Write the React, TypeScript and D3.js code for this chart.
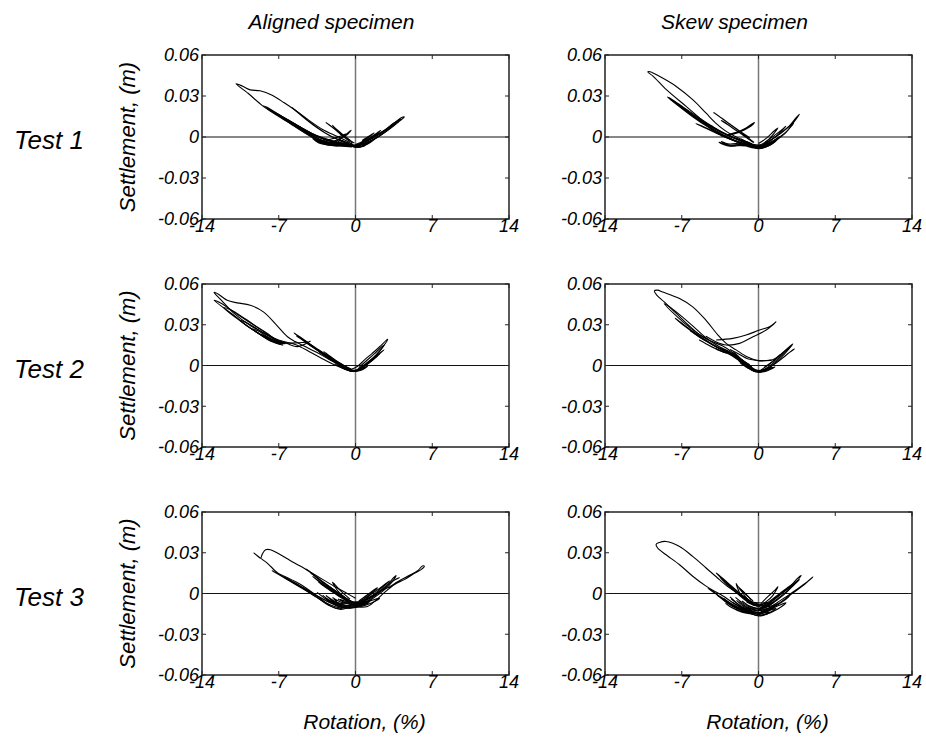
import React from "react";
import * as d3 from "d3";

type Pt = [number, number];

const colTitles = ["Aligned specimen", "Skew specimen"];
const rowTitles = ["Test 1", "Test 2", "Test 3"];
const xTicks = [-14, -7, 0, 7, 14];
const xTickLabels = ["-14", "-7", "0", "7", "14"];
const yTicks = [-0.06, -0.03, 0, 0.03, 0.06];
const yTickLabels = ["-0.06", "-0.03", "0", "0.03", "0.06"];
const xLabel = "Rotation, (%)";
const yLabel = "Settlement, (m)";

const t1Aligned: Pt[][] = [
  [[-0.2,-0.006],[-1.5,-0.005],[-2.9,-0.003],[-4.2,0.002],[-5.5,0.008],[-7.0,0.015],[-8.5,0.023],[-9.8,0.032],[-10.9,0.039],[-10.3,0.0372],[-9.6,0.0345],[-8.7,0.0338],[-7.6,0.0305],[-6.5,0.025],[-5.4,0.019],[-4.3,0.0125],[-3.0,0.0055],[-1.7,0.0005],[-0.5,-0.004]],
  [[-0.3,-0.0065],[-1.8,-0.005],[-3.2,-0.002],[-4.6,0.004],[-6.0,0.011],[-7.3,0.0175],[-8.4,0.0228],[-7.8,0.0205],[-6.6,0.0145],[-5.2,0.008],[-3.8,0.002],[-2.4,-0.002],[-1.0,-0.005]],
  [[-0.2,-0.006],[-1.6,-0.0055],[-3.0,-0.0035],[-4.4,0.002],[-5.8,0.009],[-7.0,0.0155],[-8.0,0.0205],[-7.4,0.0182],[-6.2,0.0128],[-4.9,0.0066],[-3.6,0.001],[-2.2,-0.003],[-0.8,-0.0055]],
  [[-0.4,-0.006],[-1.9,-0.0052],[-3.3,-0.003],[-4.7,0.0035],[-6.0,0.0105],[-7.4,0.0178],[-6.9,0.016],[-5.7,0.0102],[-4.4,0.0042],[-3.1,-0.0008],[-1.7,-0.0042],[-0.5,-0.006]],
  [[-0.3,-0.0058],[-1.7,-0.0048],[-3.1,-0.0025],[-4.5,0.0038],[-5.8,0.0102],[-6.8,0.0148],[-6.2,0.0125],[-5.0,0.0068],[-3.8,0.0012],[-2.5,-0.0028],[-1.2,-0.005]],
  [[-0.3,-0.005],[-1.5,-0.0022],[-2.6,0.0022],[-3.7,0.0082],[-4.8,0.015],[-5.8,0.0217],[-5.5,0.0195],[-4.5,0.0128],[-3.4,0.0062],[-2.3,0.0008],[-1.2,-0.0028],[-0.2,-0.0055]],
  [[-0.5,-0.006],[-1.5,-0.0058],[-2.5,-0.0052],[-3.4,-0.0035],[-3.9,-0.0012],[-3.5,-0.0022],[-2.8,-0.0045],[-2.0,-0.0056],[-1.0,-0.0062]],
  [[-0.6,-0.0055],[-1.6,-0.005],[-2.6,-0.0042],[-3.3,-0.0018],[-3.0,-0.0035],[-2.2,-0.0052],[-1.2,-0.006]],
  [[-0.4,-0.0068],[-1.4,-0.0062],[-2.4,-0.0055],[-3.2,-0.0042],[-3.7,-0.0025],[-3.2,-0.0048],[-2.3,-0.006],[-1.3,-0.0068],[-0.3,-0.0072]],
  [[-3.4,-0.0028],[-2.8,-0.0052],[-2.2,-0.0062],[-1.5,-0.0066],[-2.3,-0.0058],[-3.0,-0.0045]],
  [[-3.0,-0.0025],[-2.2,-0.0015],[-1.4,0.0005],[-0.9,0.0022],[-1.3,-0.0005],[-2.0,-0.0032],[-2.8,-0.0045]],
  [[-0.2,-0.0042],[-1.0,0.0005],[-1.8,0.0052],[-2.7,0.0107],[-2.4,0.0088],[-1.6,0.0038],[-0.8,-0.0008],[-0.1,-0.0045]],
  [[-0.3,-0.0045],[-1.0,-0.0005],[-1.6,0.0038],[-2.1,0.0085],[-1.9,0.0068],[-1.2,0.002],[-0.5,-0.0025]],
  [[-1.8,-0.0035],[-1.2,-0.0002],[-0.4,0.0049],[-0.7,0.0022],[-1.4,-0.0022],[-0.6,-0.0048]],
  [[0,-0.0068],[0.8,-0.0052],[1.6,-0.0022],[2.4,0.0018],[3.2,0.0063],[3.9,0.0108],[4.46,0.0146],[4.2,0.0142],[3.5,0.0098],[2.7,0.0048],[1.9,0.0006],[1.0,-0.0032],[0.2,-0.0058]],
  [[0.1,-0.0065],[0.9,-0.0048],[1.7,-0.0015],[2.5,0.0025],[3.3,0.0075],[4.15,0.0132],[3.8,0.0118],[3.0,0.0068],[2.2,0.0025],[1.3,-0.0015],[0.4,-0.005]],
  [[0,-0.0062],[0.9,-0.0045],[1.8,-0.001],[2.7,0.0038],[3.8,0.0112],[3.5,0.0102],[2.6,0.0048],[1.7,0.0008],[0.8,-0.0035]],
  [[-0.1,-0.006],[0.7,-0.004],[1.5,-0.0005],[2.3,0.0048],[2.0,0.0032],[1.2,-0.0012],[0.4,-0.0048]],
  [[0,-0.0055],[0.8,-0.0025],[1.7,0.003],[1.4,0.0015],[0.6,-0.0025]],
  [[-1.6,-0.0032],[-0.8,-0.0058],[0,-0.0072],[0.8,-0.0062],[1.5,-0.0025],[0.8,-0.0048],[0,-0.0066],[-0.8,-0.0048],[-1.5,-0.0022]],
  [[-1.2,-0.0025],[-0.5,-0.0062],[0.2,-0.0075],[0.9,-0.0055],[1.2,-0.0035],[0.4,-0.0058],[-0.4,-0.0055],[-1.0,-0.0035]],
  [[-1.0,-0.004],[-0.3,-0.0068],[0.5,-0.0072],[1.2,-0.0048],[1.8,-0.0012],[1.0,-0.0042],[0.2,-0.0062],[-0.6,-0.0058]],
  [[-0.6,-0.0064],[0.2,-0.0074],[0.8,-0.0068],[0.2,-0.0072],[-0.5,-0.0068]],
];

const t1Skew: Pt[][] = [
  [[-0.5,-0.006],[-1.6,-0.003],[-2.6,0.0005],[-3.56,0.004],[-4.8,0.0102],[-6.6,0.0224],[-8.4,0.0346],[-9.6,0.0444],[-10.1,0.0476],[-9.9,0.0478],[-9.04,0.0444],[-7.5,0.037],[-6.0,0.0273],[-4.8,0.0176],[-3.9,0.0102],[-2.95,0.0041],[-1.8,-0.001],[-0.6,-0.005]],
  [[-0.4,-0.0065],[-1.8,-0.004],[-3.2,0.0005],[-4.6,0.0072],[-6.0,0.0148],[-7.3,0.0228],[-8.3,0.0293],[-7.9,0.0275],[-6.8,0.0215],[-5.5,0.0145],[-4.2,0.0078],[-2.9,0.0018],[-1.5,-0.0032]],
  [[-0.3,-0.006],[-1.7,-0.0038],[-3.0,0.0008],[-4.4,0.0068],[-5.8,0.0142],[-7.1,0.022],[-8.0,0.0275],[-7.3,0.0238],[-6.0,0.0165],[-4.7,0.0098],[-3.4,0.0038],[-2.0,-0.0012],[-0.7,-0.005]],
  [[-0.5,-0.0058],[-1.9,-0.0035],[-3.3,0.0015],[-4.7,0.0085],[-6.0,0.0155],[-7.4,0.0238],[-6.8,0.0205],[-5.4,0.0128],[-4.0,0.0062],[-2.6,0.0005],[-1.2,-0.0038]],
  [[-1.5,-0.0042],[-2.6,-0.0015],[-3.7,0.0022],[-4.7,0.006],[-5.7,0.0098],[-5.2,0.0082],[-4.2,0.0045],[-3.1,0.0005],[-2.0,-0.0032]],
  [[-0.4,-0.004],[-1.3,0.0015],[-2.3,0.0075],[-3.2,0.0128],[-4.1,0.018],[-3.7,0.0158],[-2.8,0.0105],[-1.8,0.0048],[-0.8,-0.0005]],
  [[-0.5,-0.0038],[-1.4,0.0012],[-2.4,0.0068],[-3.4,0.012],[-3.1,0.0108],[-2.1,0.0052],[-1.1,0.0002]],
  [[-3.4,0.0005],[-2.6,0.0022],[-1.8,0.004],[-1.1,0.0068],[-0.37,0.0107],[-0.6,0.0085],[-1.3,0.0052],[-2.1,0.0025],[-2.8,0.001]],
  [[-0.8,-0.0062],[-1.8,-0.0055],[-2.6,-0.0058],[-3.2,-0.005],[-3.6,-0.0038],[-3.2,-0.0055],[-2.6,-0.0068],[-2.0,-0.0062],[-1.2,-0.0065]],
  [[-1.0,-0.0058],[-2.0,-0.0048],[-2.8,-0.005],[-3.4,-0.0032],[-2.9,-0.0058],[-2.2,-0.0066],[-1.5,-0.006]],
  [[0,-0.0075],[0.8,-0.0055],[1.6,-0.0022],[2.4,0.0025],[3.1,0.0095],[3.74,0.0166],[3.5,0.0148],[2.8,0.008],[2.0,0.0028],[1.2,-0.0018],[0.4,-0.0058]],
  [[0.1,-0.007],[0.9,-0.0048],[1.7,-0.0012],[2.5,0.0035],[3.2,0.0102],[2.9,0.0085],[2.1,0.003],[1.3,-0.0012],[0.5,-0.005]],
  [[0,-0.0068],[0.8,-0.0042],[1.6,0.0005],[2.5,0.0078],[2.2,0.0058],[1.4,0.0008],[0.6,-0.0038]],
  [[-0.1,-0.0065],[0.7,-0.0035],[1.77,0.0066],[1.4,0.0042],[0.7,-0.001],[0,-0.0048]],
  [[-1.6,-0.002],[-0.8,-0.0062],[0,-0.0085],[0.8,-0.0068],[1.5,-0.003],[0.8,-0.0052],[0,-0.0072],[-0.8,-0.005],[-1.6,-0.0015]],
  [[-1.3,-0.0032],[-0.6,-0.0068],[0.1,-0.008],[0.9,-0.0058],[1.3,-0.0038],[0.5,-0.0062],[-0.4,-0.006],[-1.1,-0.0035]],
  [[-2.0,-0.001],[-1.2,-0.0045],[-0.4,-0.0072],[0.4,-0.0075],[1.1,-0.0048],[0.3,-0.0058],[-0.6,-0.0052],[-1.5,-0.002]],
  [[-2.4,-0.002],[-1.5,-0.0055],[-0.6,-0.0078],[0.3,-0.0082],[1.0,-0.0062],[1.6,-0.0028],[0.8,-0.006],[-0.2,-0.0075],[-1.2,-0.006],[-2.2,-0.0028]],
  [[-1.1,-0.005],[-0.3,-0.0078],[0.6,-0.0072],[1.4,-0.004],[2.0,0.0005],[1.2,-0.0032],[0.4,-0.006],[-0.5,-0.0068]],
];

const t2Aligned: Pt[][] = [
  [[-0.3,-0.004],[-1.5,-0.001],[-2.8,0.004],[-4.2,0.0102],[-5.5,0.0155],[-6.8,0.0182],[-8.0,0.0225],[-9.6,0.0295],[-11.1,0.0385],[-12.2,0.0478],[-12.9,0.0539],[-12.5,0.0525],[-11.7,0.048],[-10.8,0.0461],[-9.6,0.0444],[-8.4,0.0395],[-7.2,0.0298],[-6.2,0.0212],[-5.5,0.0176],[-4.6,0.014],[-3.5,0.0095],[-2.4,0.0045],[-1.3,0.0005],[-0.4,-0.0025]],
  [[-7.0,0.0162],[-8.1,0.0205],[-9.6,0.0275],[-11.1,0.037],[-12.9,0.048],[-12.3,0.046],[-11.1,0.0395],[-9.6,0.0315],[-8.1,0.024],[-7.2,0.0188],[-6.5,0.0172],[-5.3,0.0139],[-4.1,0.018]],
  [[-6.9,0.0158],[-8.0,0.0198],[-9.4,0.0265],[-10.8,0.0345],[-12.0,0.0425],[-11.4,0.041],[-10.0,0.034],[-8.6,0.0262],[-7.4,0.0198],[-6.6,0.0165]],
  [[-6.8,0.0155],[-8.0,0.0195],[-9.2,0.0255],[-10.5,0.033],[-9.8,0.031],[-8.5,0.0245],[-7.4,0.0192],[-6.6,0.016]],
  [[-6.6,0.015],[-7.6,0.0175],[-8.6,0.0222],[-9.4,0.0268],[-8.9,0.0255],[-7.9,0.0205],[-7.0,0.0172]],
  [[-6.4,0.016],[-7.2,0.0168],[-8.0,0.0195],[-8.6,0.023],[-7.8,0.0198],[-7.0,0.0172],[-6.2,0.0165],[-5.2,0.0168],[-4.3,0.0172]],
  [[-0.4,-0.0038],[-1.4,0.0008],[-2.5,0.0062],[-3.6,0.0125],[-4.6,0.0185],[-5.6,0.0241],[-5.3,0.022],[-4.3,0.0162],[-3.2,0.0102],[-2.1,0.0045],[-1.0,-0.0005]],
  [[-0.5,-0.0035],[-1.5,0.001],[-2.6,0.0065],[-3.7,0.0128],[-4.8,0.019],[-5.4,0.0218],[-4.9,0.0192],[-3.8,0.0132],[-2.7,0.0072],[-1.6,0.0018],[-0.6,-0.0028]],
  [[-0.2,-0.0042],[-1.2,0.0002],[-2.2,0.0052],[-3.3,0.0108],[-4.4,0.0165],[-5.0,0.0198],[-4.5,0.0175],[-3.4,0.0118],[-2.3,0.006],[-1.2,0.0008],[-0.3,-0.0035]],
  [[-0.3,-0.004],[-1.3,0.0005],[-2.4,0.0055],[-3.5,0.0112],[-4.6,0.0172],[-4.2,0.0152],[-3.1,0.0092],[-2.0,0.0035],[-0.9,-0.0015]],
  [[-0.4,-0.0044],[-1.4,-0.0005],[-2.4,0.0048],[-3.3,0.0098],[-3.0,0.0085],[-2.0,0.0035],[-1.0,-0.0012]],
  [[-0.6,-0.0032],[-1.6,0.0018],[-2.9,0.0102],[-2.6,0.0085],[-1.7,0.0032],[-0.8,-0.0012]],
  [[-0.4,-0.0042],[-1.2,-0.0005],[-2.1,0.0045],[-2.0,0.0035],[-1.2,0.0002],[-0.5,-0.0035]],
  [[-0.2,-0.0045],[0.5,-0.0025],[1.2,0.0025],[1.9,0.008],[2.5,0.0138],[2.94,0.0193],[2.8,0.0185],[2.2,0.0138],[1.5,0.0088],[0.8,0.004],[0.2,-0.0005],[-0.5,-0.0032]],
  [[-0.1,-0.0042],[0.6,-0.002],[1.3,0.0028],[2.0,0.0085],[2.63,0.0151],[2.4,0.0138],[1.7,0.0085],[1.0,0.0035],[0.3,-0.0015]],
  [[0,-0.004],[0.7,-0.0012],[1.4,0.003],[2.0,0.0072],[2.6,0.0115],[2.3,0.0098],[1.6,0.0055],[0.9,0.0012],[0.2,-0.0028]],
  [[0,-0.0038],[0.8,-0.0005],[1.5,0.0035],[2.2,0.0085],[1.9,0.0068],[1.2,0.0025],[0.4,-0.002]],
  [[-1.8,0.0005],[-1.0,-0.0025],[-0.3,-0.0044],[0.5,-0.0035],[1.1,-0.0005],[0.4,-0.0025],[-0.4,-0.0038],[-1.2,-0.0015],[-1.9,0.0012]],
  [[-1.5,-0.0005],[-0.7,-0.0035],[0,-0.0042],[0.7,-0.0025],[0.2,-0.0035],[-0.6,-0.003],[-1.3,-0.0008]],
];

const t2Skew: Pt[][] = [
  [[0,-0.0045],[-0.8,-0.0005],[-1.6,0.0045],[-2.4,0.0098],[-3.3,0.0145],[-4.4,0.0182],[-5.4,0.0228],[-6.4,0.0298],[-7.5,0.0383],[-8.6,0.0468],[-9.3,0.052],[-9.5,0.0549],[-9.2,0.0555],[-8.73,0.0541],[-7.2,0.0493],[-6.0,0.0432],[-4.8,0.0334],[-3.7,0.0224],[-2.95,0.0163],[-2.04,0.0115],[-1.0,0.0062],[0,0.0035],[1.2,0.004]],
  [[-3.86,0.0188],[-2.34,0.02],[-1.13,0.0224],[0.09,0.0261],[1.0,0.0285],[1.6,0.0322],[1.2,0.0292],[0.7,0.0261],[-0.5,0.0212],[-1.73,0.0163],[-2.95,0.0151],[-3.9,0.0175],[-4.8,0.0215]],
  [[-0.3,-0.0045],[-1.2,0.0005],[-2.2,0.0068],[-3.2,0.0118],[-4.2,0.017],[-5.2,0.0218],[-6.2,0.0275],[-7.3,0.035],[-8.6,0.0455],[-8.3,0.0442],[-7.2,0.0375],[-6.0,0.0292],[-4.8,0.0205],[-3.8,0.0148],[-2.8,0.0108],[-1.8,0.0055],[-0.8,0.0005]],
  [[-0.4,-0.0042],[-1.3,0.001],[-2.3,0.0072],[-3.3,0.0112],[-4.3,0.0158],[-5.4,0.021],[-6.5,0.0275],[-7.6,0.0348],[-7.1,0.0318],[-6.0,0.0252],[-4.9,0.0192],[-3.8,0.0138],[-2.7,0.0098],[-1.6,0.0045],[-0.6,-0.001]],
  [[-0.2,-0.0048],[-1.1,0.0002],[-2.1,0.0062],[-3.1,0.0105],[-4.1,0.0148],[-5.1,0.0195],[-6.2,0.0255],[-5.7,0.0228],[-4.6,0.0172],[-3.6,0.0125],[-2.5,0.009],[-1.4,0.0035]],
  [[-0.5,-0.0038],[-1.5,0.0018],[-2.5,0.0078],[-3.5,0.0108],[-4.6,0.0152],[-5.4,0.0188],[-4.8,0.016],[-3.8,0.012],[-2.8,0.0088],[-1.8,0.0038],[-0.8,-0.002]],
  [[-0.3,-0.004],[-1.3,0.0015],[-2.3,0.0082],[-3.2,0.0098],[-3.9,0.0125],[-3.4,0.0108],[-2.6,0.0092],[-1.7,0.0042],[-0.7,-0.0015]],
  [[-0.6,-0.0035],[-1.5,0.0022],[-2.3,0.0102],[-2.0,0.008],[-1.3,0.0028],[-0.4,-0.0032]],
  [[-2.6,0.0118],[-1.8,0.0085],[-1.0,0.005],[-0.2,0.0038],[0.6,0.0035],[1.3,0.0042],[2.0,0.0082]],
  [[0,-0.0051],[0.7,-0.003],[1.4,0.0012],[2.1,0.0062],[2.7,0.0115],[3.13,0.0159],[2.9,0.0145],[2.3,0.0098],[1.6,0.0048],[0.9,0.0005],[0.2,-0.0035]],
  [[0.1,-0.0048],[0.8,-0.0025],[1.5,0.0012],[2.2,0.0055],[2.8,0.0095],[3.29,0.0122],[3.0,0.0108],[2.4,0.0068],[1.7,0.0025],[1.0,-0.0012],[0.3,-0.0038]],
  [[0,-0.0045],[0.7,-0.002],[1.4,0.0022],[2.1,0.0072],[2.9,0.0138],[2.6,0.0122],[1.9,0.0072],[1.2,0.0025],[0.5,-0.0015]],
  [[-1.6,0.0015],[-0.9,-0.0022],[-0.2,-0.0048],[0.6,-0.004],[1.2,-0.0012],[0.5,-0.0032],[-0.3,-0.0042],[-1.0,-0.0018],[-1.7,0.0022]],
  [[-1.3,0.0005],[-0.6,-0.003],[0.1,-0.0045],[0.9,-0.0028],[0.3,-0.0038],[-0.5,-0.0028],[-1.2,0.0008]],
  [[-1.8,0.0035],[-1.0,-0.001],[-0.2,-0.0045],[0.7,-0.0042],[1.5,-0.001],[0.8,-0.0028],[-0.1,-0.0038],[-0.9,-0.0005]],
];

const t3Aligned: Pt[][] = [
  [[-0.5,-0.0095],[-1.34,-0.0117],[-2.26,-0.0093],[-3.48,-0.002],[-5.0,0.0066],[-6.5,0.0127],[-7.1,0.0151],[-8.05,0.0224],[-8.7,0.0262],[-9.27,0.0298],[-8.9,0.0275],[-8.66,0.0261],[-8.5,0.029],[-8.2,0.0322],[-7.75,0.0322],[-7.0,0.0292],[-6.0,0.0245],[-5.0,0.02],[-3.48,0.0127],[-1.95,0.0054],[-0.8,0.0002],[0,-0.0035]],
  [[-0.6,-0.009],[-1.5,-0.0112],[-2.5,-0.0085],[-3.6,-0.0025],[-4.8,0.0035],[-6.0,0.0092],[-7.0,0.014],[-7.6,0.0168],[-7.1,0.0145],[-6.0,0.0098],[-4.8,0.0045],[-3.6,-0.0012],[-2.4,-0.0065],[-1.3,-0.0098]],
  [[-0.4,-0.0085],[-1.4,-0.0105],[-2.4,-0.008],[-3.5,-0.003],[-4.6,0.0028],[-5.6,0.0078],[-6.5,0.0118],[-5.9,0.0095],[-4.8,0.0042],[-3.6,-0.0012],[-2.5,-0.006],[-1.2,-0.0092]],
  [[-0.3,-0.0065],[-1.2,-0.0025],[-2.2,0.0032],[-3.3,0.0102],[-4.5,0.018],[-4.2,0.0162],[-3.1,0.0095],[-2.0,0.003],[-0.9,-0.0032],[0,-0.0072]],
  [[-0.2,-0.0068],[-1.1,-0.0028],[-2.1,0.0025],[-3.1,0.0088],[-4.1,0.0152],[-3.7,0.0128],[-2.7,0.0068],[-1.7,0.0012],[-0.7,-0.0045]],
  [[-0.5,-0.0065],[-1.4,-0.0022],[-2.6,0.0042],[-3.9,0.0125],[-3.5,0.0102],[-2.4,0.0038],[-1.3,-0.0018],[-0.3,-0.0062]],
  [[-0.4,-0.007],[-1.3,-0.0032],[-2.3,0.0022],[-3.4,0.0085],[-3.1,0.007],[-2.1,0.0012],[-1.0,-0.0045]],
  [[-0.1,-0.0072],[-0.9,-0.0035],[-1.6,0.0018],[-2.1,0.0083],[-1.9,0.0068],[-1.3,0.0015],[-0.5,-0.0042]],
  [[-0.3,-0.0075],[-1.0,-0.0042],[-1.7,0.0005],[-2.6,0.0062],[-2.3,0.0045],[-1.5,-0.0005],[-0.6,-0.0055]],
  [[0,-0.0098],[1.1,-0.0095],[2.0,-0.004],[2.6,0.0005],[3.6,0.0068],[4.45,0.0102],[5.2,0.014],[5.98,0.0176],[6.28,0.02],[6.1,0.0202],[5.7,0.017],[4.75,0.0127],[3.8,0.0085],[3.2,0.0054],[2.0,0.0005],[1.1,-0.0045],[0.2,-0.008]],
  [[-0.2,-0.0085],[0.8,-0.0072],[1.7,-0.003],[2.6,0.0025],[3.3,0.0082],[3.7,0.0132],[3.5,0.0118],[2.9,0.0065],[2.1,0.0012],[1.2,-0.0035],[0.3,-0.0072]],
  [[0,-0.008],[0.9,-0.0062],[1.8,-0.0015],[2.7,0.0042],[3.4,0.0092],[4.0,0.0117],[3.6,0.0102],[2.8,0.005],[1.9,0],[1.0,-0.0045],[0.1,-0.0075]],
  [[-0.1,-0.0075],[0.8,-0.005],[1.6,-0.001],[2.4,0.0042],[3.1,0.0092],[2.8,0.0075],[2.1,0.0032],[1.3,-0.0012],[0.4,-0.0058]],
  [[0,-0.0072],[0.7,-0.0045],[1.4,-0.0005],[2.0,0.0042],[1.7,0.0028],[1.0,-0.0015],[0.3,-0.0055]],
  [[0.2,-0.007],[1.0,-0.0038],[1.6,0.0015],[1.4,0.0005],[0.8,-0.003]],
  [[-2.5,-0.0028],[-1.7,-0.0078],[-0.9,-0.0108],[0,-0.0098],[0.9,-0.0072],[1.5,-0.0045],[0.7,-0.0068],[-0.2,-0.0082],[-1.0,-0.0085],[-1.9,-0.0058],[-2.7,-0.0015]],
  [[-2.0,-0.0038],[-1.3,-0.0088],[-0.5,-0.01],[0.4,-0.0088],[1.1,-0.0058],[0.3,-0.0072],[-0.5,-0.0075],[-1.3,-0.0065],[-2.1,-0.003]],
  [[-3.0,-0.0012],[-2.2,-0.0062],[-1.2,-0.0098],[-0.3,-0.0092],[0.6,-0.0078],[1.3,-0.0062],[0.5,-0.006],[-0.4,-0.0065],[-1.4,-0.0072],[-2.3,-0.0045]],
  [[-3.5,0.0008],[-2.6,-0.0048],[-1.6,-0.0095],[-0.6,-0.0108],[0.4,-0.0098],[1.4,-0.0072],[2.2,-0.0035],[1.2,-0.0058],[0.2,-0.0078],[-0.8,-0.009],[-1.8,-0.0072],[-2.8,-0.0032]],
  [[-2.2,-0.005],[-1.4,-0.0092],[-0.6,-0.0105],[0.2,-0.0095],[0.9,-0.0078],[0.2,-0.0085],[-0.7,-0.0092],[-1.5,-0.0078]],
  [[-1.0,-0.0058],[-0.3,-0.0085],[0.5,-0.0088],[1.2,-0.007],[0.5,-0.0075],[-0.3,-0.0072]],
  [[-1.6,-0.004],[-0.8,-0.0072],[0,-0.0082],[0.8,-0.006],[0.2,-0.0065],[-0.6,-0.0062],[-1.4,-0.0045]],
];

const t3Skew: Pt[][] = [
  [[-0.3,-0.0125],[-1.2,-0.011],[-2.2,-0.0075],[-3.2,-0.002],[-4.17,0.0024],[-4.78,0.0054],[-6.0,0.0127],[-7.2,0.0212],[-8.43,0.0285],[-9.2,0.0335],[-9.34,0.0362],[-9.04,0.0376],[-8.43,0.0383],[-7.2,0.0346],[-6.0,0.0273],[-4.78,0.0188],[-3.56,0.0102],[-2.65,0.0041],[-1.73,-0.0007],[-0.8,-0.0052],[0,-0.008]],
  [[-0.2,-0.0085],[-1.0,-0.005],[-1.9,0.0002],[-2.9,0.0075],[-3.86,0.0151],[-3.5,0.0128],[-2.5,0.0058],[-1.6,-0.0005],[-0.7,-0.0058]],
  [[-0.3,-0.009],[-1.1,-0.0055],[-2.0,0.0005],[-2.9,0.0068],[-3.5,0.0118],[-3.1,0.0092],[-2.2,0.0032],[-1.3,-0.0025],[-0.4,-0.0075]],
  [[-0.1,-0.0088],[-0.9,-0.0058],[-1.6,-0.0012],[-2.04,0.0073],[-1.9,0.0055],[-1.3,0.0005],[-0.5,-0.0055]],
  [[-0.2,-0.009],[-0.9,-0.005],[-1.5,0.0012],[-1.8,0.0042],[-1.4,0.0015],[-0.7,-0.0045]],
  [[-0.4,-0.0145],[-1.4,-0.0128],[-2.4,-0.0092],[-3.3,-0.0038],[-4.0,0.0008],[-4.6,0.0038],[-4.2,0.0015],[-3.4,-0.0028],[-2.5,-0.0078],[-1.5,-0.0112],[-0.5,-0.0135]],
  [[-0.2,-0.0148],[-1.2,-0.0135],[-2.2,-0.0102],[-3.1,-0.0055],[-3.8,-0.001],[-3.3,-0.004],[-2.4,-0.0088],[-1.4,-0.0122]],
  [[-0.5,-0.0152],[-1.5,-0.0138],[-2.5,-0.0102],[-3.0,-0.0072],[-2.6,-0.0095],[-1.7,-0.0128],[-0.7,-0.0148]],
  [[0,-0.0155],[1.0,-0.012],[2.0,-0.0065],[3.0,-0.0005],[4.0,0.0055],[4.96,0.0122],[4.7,0.0102],[3.8,0.0048],[2.8,-0.0008],[1.8,-0.0062],[0.8,-0.0115],[0,-0.0145]],
  [[-0.1,-0.0125],[0.8,-0.0095],[1.7,-0.0048],[2.6,0.0012],[3.3,0.0072],[3.9,0.0132],[3.6,0.0115],[3.0,0.0062],[2.2,0.0005],[1.3,-0.0052],[0.3,-0.0105]],
  [[0,-0.0118],[0.9,-0.0085],[1.8,-0.0035],[2.7,0.0025],[3.74,0.0102],[3.4,0.0085],[2.6,0.003],[1.7,-0.0025],[0.8,-0.0075]],
  [[0.1,-0.011],[0.9,-0.0075],[1.6,-0.003],[2.4,0.0022],[3.1,0.007],[2.8,0.0052],[2.0,0.0005],[1.2,-0.0045],[0.3,-0.0095]],
  [[0,-0.0095],[0.7,-0.006],[1.3,-0.0015],[1.77,0.0049],[1.5,0.0025],[0.9,-0.002],[0.2,-0.0075]],
  [[0.2,-0.0135],[1.1,-0.0108],[2.0,-0.0068],[2.8,-0.002],[2.5,-0.0042],[1.6,-0.0088],[0.6,-0.0125]],
  [[-2.5,-0.004],[-1.6,-0.0098],[-0.7,-0.0148],[0,-0.0166],[0.8,-0.015],[1.6,-0.011],[0.8,-0.0128],[0,-0.014],[-0.9,-0.0125],[-1.8,-0.008],[-2.6,-0.0025]],
  [[-2.0,-0.005],[-1.2,-0.0105],[-0.4,-0.0135],[0.4,-0.0138],[1.2,-0.0108],[0.4,-0.0115],[-0.5,-0.011],[-1.3,-0.0078],[-2.1,-0.0028]],
  [[-3.2,-0.0035],[-2.3,-0.0085],[-1.3,-0.0125],[-0.3,-0.0158],[0.7,-0.0152],[1.8,-0.0112],[2.5,-0.0068],[1.6,-0.0098],[0.6,-0.0132],[-0.4,-0.0145],[-1.4,-0.0112],[-2.4,-0.0065]],
  [[-1.8,-0.006],[-0.9,-0.0105],[0.1,-0.0125],[1.1,-0.0105],[1.9,-0.0075],[1.0,-0.0095],[0,-0.0108],[-1.0,-0.0088]],
  [[-1.0,-0.0095],[-0.4,-0.0145],[0.3,-0.016],[1.0,-0.0135],[0.5,-0.0142],[-0.2,-0.0152],[-0.9,-0.0125]],
  [[-1.4,-0.0085],[-0.6,-0.0128],[0.2,-0.0148],[1.0,-0.0125],[1.5,-0.0095],[0.7,-0.0115],[-0.1,-0.0128],[-0.9,-0.0105]],
  [[-1.5,-0.0055],[-0.7,-0.0098],[0,-0.0112],[0.8,-0.0095],[1.4,-0.0065],[0.6,-0.0085],[-0.3,-0.0088],[-1.1,-0.006]],
  [[-0.8,-0.006],[-0.2,-0.0092],[0.5,-0.0098],[1.1,-0.0082],[0.4,-0.0088],[-0.4,-0.0082]],
  [[-1.2,-0.0045],[-0.5,-0.0075],[0.2,-0.0082],[0.9,-0.0065],[0.3,-0.007],[-0.5,-0.0065]],
];

const panelData: Pt[][][][] = [
  [t1Aligned, t1Skew],
  [t2Aligned, t2Skew],
  [t3Aligned, t3Skew],
];

const FONT = "'Liberation Sans', Arial, sans-serif";
const colX = [202, 605];
const panelW = 307;
const rowY = [55, 284, 512];
const panelH = [164, 163, 163];

function Panel({ row, col }: { row: number; col: number }) {
  const x0 = colX[col];
  const y0 = rowY[row];
  const w = panelW;
  const h = panelH[row];
  const x = d3.scaleLinear().domain([-14, 14]).range([x0, x0 + w]);
  const y = d3.scaleLinear().domain([-0.06, 0.06]).range([y0 + h, y0]);
  const line = d3
    .line<Pt>()
    .x((d) => x(d[0]))
    .y((d) => y(d[1]))
    .curve(d3.curveCatmullRom.alpha(0.5));
  const clipId = `clip-${row}-${col}`;
  const tl = 4;
  return (
    <g>
      <defs>
        <clipPath id={clipId}>
          <rect x={x0} y={y0} width={w} height={h} />
        </clipPath>
      </defs>
      <rect x={x0} y={y0} width={w} height={h} fill="#fff" />
      <line x1={x(0)} x2={x(0)} y1={y0} y2={y0 + h} stroke="#777" strokeWidth={1.5} />
      <line x1={x0} x2={x0 + w} y1={y(0)} y2={y(0)} stroke="#111" strokeWidth={1.2} />
      <g clipPath={`url(#${clipId})`}>
        {panelData[row][col].map((c, i) => (
          <path key={i} d={line(c) || ""} fill="none" stroke="#000" strokeWidth={1.1} strokeLinejoin="round" />
        ))}
      </g>
      {xTicks.map((t) => (
        <g key={"xt" + t}>
          <line x1={x(t)} x2={x(t)} y1={y0 + h} y2={y0 + h - tl} stroke="#222" />
          <line x1={x(t)} x2={x(t)} y1={y0} y2={y0 + tl} stroke="#222" />
        </g>
      ))}
      {yTicks.map((t) => (
        <g key={"yt" + t}>
          <line x1={x0} x2={x0 + tl} y1={y(t)} y2={y(t)} stroke="#222" />
          <line x1={x0 + w} x2={x0 + w - tl} y1={y(t)} y2={y(t)} stroke="#222" />
        </g>
      ))}
      <rect x={x0} y={y0} width={w} height={h} fill="none" stroke="#222" strokeWidth={1.5} />
      {xTicks.map((t, i) => (
        <text key={"xl" + t} x={x(t)} y={y0 + h + 13} textAnchor="middle" fontSize={18} fontStyle="italic" fontFamily={FONT} fill="#000">
          {xTickLabels[i]}
        </text>
      ))}
      {yTicks.map((t, i) => (
        <text key={"yl" + t} x={x0 - 3} y={y(t)} dy="0.36em" textAnchor="end" fontSize={18} fontStyle="italic" fontFamily={FONT} fill="#000">
          {yTickLabels[i]}
        </text>
      ))}
    </g>
  );
}

export default function App() {
  const rows = [0, 1, 2];
  const cols = [0, 1];
  return (
    <svg width={926} height={744} style={{ position: "absolute", left: 0, top: 0, background: "#fff" }}>
      <rect x={0} y={0} width={926} height={744} fill="#fff" />
      {cols.map((c) => (
        <text key={"ct" + c} x={colX[c] + panelW / 2 - 24} y={29} textAnchor="middle" fontSize={21} fontStyle="italic" fontFamily={FONT}>
          {colTitles[c]}
        </text>
      ))}
      {rows.map((r) => {
        const cy = rowY[r] + panelH[r] / 2;
        return (
          <g key={"r" + r}>
            <text x={14} y={cy + 12} fontSize={26} fontStyle="italic" fontFamily={FONT}>
              {rowTitles[r]}
            </text>
            <text transform={`translate(135,${cy}) rotate(-90)`} textAnchor="middle" fontSize={22} fontStyle="italic" fontFamily={FONT}>
              {yLabel}
            </text>
          </g>
        );
      })}
      {rows.flatMap((r) => cols.map((c) => <Panel key={`p${r}${c}`} row={r} col={c} />))}
      {cols.map((c) => (
        <text key={"xlab" + c} x={colX[c] + panelW / 2 + 9} y={729} textAnchor="middle" fontSize={21} fontStyle="italic" fontFamily={FONT}>
          {xLabel}
        </text>
      ))}
    </svg>
  );
}
